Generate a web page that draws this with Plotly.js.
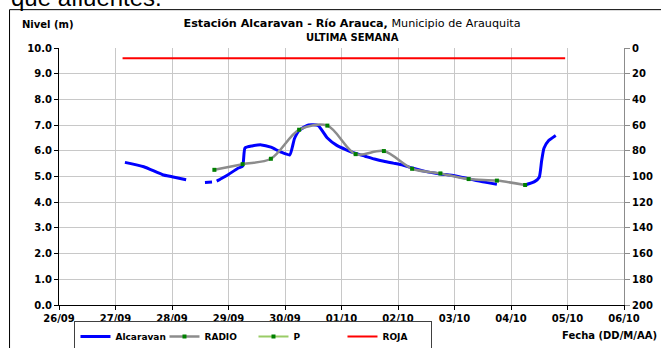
<!DOCTYPE html>
<html><head><meta charset="utf-8">
<script src="https://cdn.plot.ly/plotly-3.0.1.min.js"></script>
<style>html,body{margin:0;padding:0;background:#fff;}#c{width:661px;height:348px;}</style>
</head><body><div id="c"></div>
<script>
const alcDates = ['2012-09-27 04:00','2012-09-27 12:00','2012-09-27 20:00','2012-09-28 00:00','2012-09-28 06:00','2012-09-28 10:00',
 '2012-09-28 14:00','2012-09-28 17:00','2012-09-28 18:00',
 '2012-09-28 19:00','2012-09-28 21:00','2012-09-29 00:00','2012-09-29 04:00','2012-09-29 06:00','2012-09-29 07:00','2012-09-29 10:00',
 '2012-09-29 14:00','2012-09-29 18:00','2012-09-29 22:00','2012-09-30 02:00','2012-09-30 04:00','2012-09-30 06:00','2012-09-30 10:00',
 '2012-09-30 14:00','2012-09-30 18:00','2012-09-30 22:00','2012-10-01 02:00','2012-10-01 06:00','2012-10-01 10:00','2012-10-01 14:00',
 '2012-10-01 18:00','2012-10-01 22:00','2012-10-02 02:00','2012-10-02 06:00','2012-10-02 12:00','2012-10-02 18:00','2012-10-03 00:00',
 '2012-10-03 06:00','2012-10-03 12:00','2012-10-03 18:00','2012-10-04 00:00',
 '2012-10-04 06:00','2012-10-04 10:00','2012-10-04 12:00','2012-10-04 13:00','2012-10-04 14:00','2012-10-04 16:00','2012-10-04 19:00'];
const alcLevel = [5.55,5.38,5.07,4.99,4.87,null,
 4.77,4.79,null,
 4.82,4.92,5.08,5.32,5.40,6.11,6.19,
 6.23,6.14,5.96,5.84,6.47,6.79,7.01,
 6.99,6.50,6.21,6.04,5.90,5.79,5.68,
 5.59,5.52,5.45,5.33,5.19,5.10,5.03,
 4.91,4.79,4.70,null,
 4.67,4.80,4.97,5.60,6.10,6.40,6.60];

const radioDates = ['2012-09-28 18:00','2012-09-29 06:00','2012-09-29 18:00','2012-09-30 06:00','2012-09-30 18:00','2012-10-01 06:00',
 '2012-10-01 18:00','2012-10-02 06:00','2012-10-02 18:00','2012-10-03 06:00','2012-10-03 18:00','2012-10-04 06:00'];
const radioLevel = [5.26,5.48,5.69,6.82,6.98,5.87,5.99,5.30,5.12,4.90,4.84,4.67];

const pDates = ['2012-09-28 18:00'];
const pLevel = [null];

const rojaDates = ['2012-09-27 03:00','2012-10-04 23:00'];
const rojaLevel = [9.6,9.6];

const xTickDates = ['2012-09-26','2012-09-27','2012-09-28','2012-09-29','2012-09-30','2012-10-01','2012-10-02','2012-10-03','2012-10-04','2012-10-05','2012-10-06'];
const xTickLabels = ['26/09','27/09','28/09','29/09','30/09','01/10','02/10','03/10','04/10','05/10','06/10'];
const yTicks = [0,1,2,3,4,5,6,7,8,9,10];
const yTickLabels = ['0.0','1.0','2.0','3.0','4.0','5.0','6.0','7.0','8.0','9.0','10.0'];
const y2Ticks = [0,20,40,60,80,100,120,140,160,180,200];

const F = 'DejaVu Sans, Arial, sans-serif';
const L = 58.5, R = 624, T = 48.3, B = 305;
const PW = R - L, PH = B - T;
const px = v => (v - L) / PW;
const py = v => (B - v) / PH;

const traces = [
 {x: alcDates, y: alcLevel, name: 'Alcaravan', type: 'scatter', mode: 'lines', connectgaps: false,
  line: {color: '#0000ff', width: 3, shape: 'spline', smoothing: 0.5}},
 {x: radioDates, y: radioLevel, name: 'RADIO', type: 'scatter', mode: 'lines+markers',
  line: {color: '#8c8c8c', width: 2.5, shape: 'spline', smoothing: 0.9},
  marker: {color: '#008000', size: 4, symbol: 'square'}},
 {x: pDates, y: pLevel, name: 'P', type: 'scatter', mode: 'lines+markers',
  line: {color: '#99cc66', width: 2}, marker: {color: '#008000', size: 4, symbol: 'square'}},
 {x: rojaDates, y: rojaLevel, name: 'ROJA', type: 'scatter', mode: 'lines',
  line: {color: '#ff0000', width: 2}},
 {x: [xTickDates[0]], y: [0], yaxis: 'y2', showlegend: false, mode: 'markers', marker: {opacity: 0}, hoverinfo: 'skip'}
];

const layout = {
 width: 661, height: 348,
 margin: {l: L, r: 661 - R, t: T, b: 348 - B, autoexpand: false},
 paper_bgcolor: '#ffffff', plot_bgcolor: '#ffffff',
 font: {family: F, color: '#000', size: 10},
 showlegend: true,
 title: {text: '<b>Estación Alcaravan - Río Arauca,</b> Municipio de Arauquita',
   x: 352/661, xanchor: 'center', xref: 'container', y: 1 - 23.5/348, yanchor: 'middle', yref: 'container',
   font: {family: F, size: 11.2, color: '#000'}},
 xaxis: {type: 'date', range: ['2012-09-26', '2012-10-06'], tickvals: xTickDates, ticktext: xTickLabels,
   showgrid: true, gridcolor: '#c8c8c8', gridwidth: 1, showline: true, linecolor: '#000', linewidth: 1,
   ticks: 'outside', ticklen: 4, tickcolor: '#000', zeroline: false,
   tickfont: {family: F, size: 10, color: '#000', weight: 'bold'}},
 yaxis: {range: [0, 10], tickvals: yTicks, ticktext: yTickLabels, showgrid: true, gridcolor: '#c8c8c8', gridwidth: 1,
   showline: true, linecolor: '#000', linewidth: 1, ticks: 'outside', ticklen: 4, tickcolor: '#000', zeroline: false,
   tickfont: {family: F, size: 10, color: '#000', weight: 'bold'}},
 yaxis2: {overlaying: 'y', side: 'right', range: [200, 0], tickvals: y2Ticks, showgrid: false, zeroline: false,
   showline: true, linecolor: '#8c8c8c', linewidth: 1, ticks: 'outside', ticklen: 5, tickcolor: '#8c8c8c',
   tickfont: {family: F, size: 10, color: '#000', weight: 'bold'}},
 legend: {orientation: 'h', x: px(74), xanchor: 'left', y: py(321), yanchor: 'top',
   bordercolor: '#404040', borderwidth: 1, bgcolor: '#fff', entrywidth: 44, entrywidthmode: 'pixels',
   font: {family: F, size: 9, color: '#000', weight: 'bold'}, tracegroupgap: 0},
 annotations: [
  {text: '<b>ULTIMA SEMANA</b>', xref: 'paper', yref: 'paper', x: px(352), y: py(37.8),
   xanchor: 'center', yanchor: 'middle', showarrow: false, font: {family: F, size: 10, color: '#000'}},
  {text: '<b>Nivel (m)</b>', xref: 'paper', yref: 'paper', x: px(19), y: py(25),
   xanchor: 'left', yanchor: 'middle', showarrow: false, font: {family: F, size: 10, color: '#000'}},
  {text: '<b>Fecha (DD/M/AA)</b>', xref: 'paper', yref: 'paper', x: px(659), y: py(335),
   xanchor: 'right', yanchor: 'middle', showarrow: false, font: {family: F, size: 10, color: '#000'}},
  {text: 'que afluentes.', xref: 'paper', yref: 'paper', x: px(8), y: py(13),
   xanchor: 'left', yanchor: 'bottom', showarrow: false, font: {family: 'Liberation Sans, Arial', size: 24, color: '#000'}}
 ],
 shapes: [
  {type: 'rect', xref: 'paper', yref: 'paper', x0: px(9), x1: px(720),
   y0: py(400), y1: py(10), line: {color: '#000', width: 1}, fillcolor: 'rgba(0,0,0,0)', layer: 'below'}
 ]
};

Plotly.newPlot('c', traces, layout, {staticPlot: true, displayModeBar: false});
</script></body></html>
